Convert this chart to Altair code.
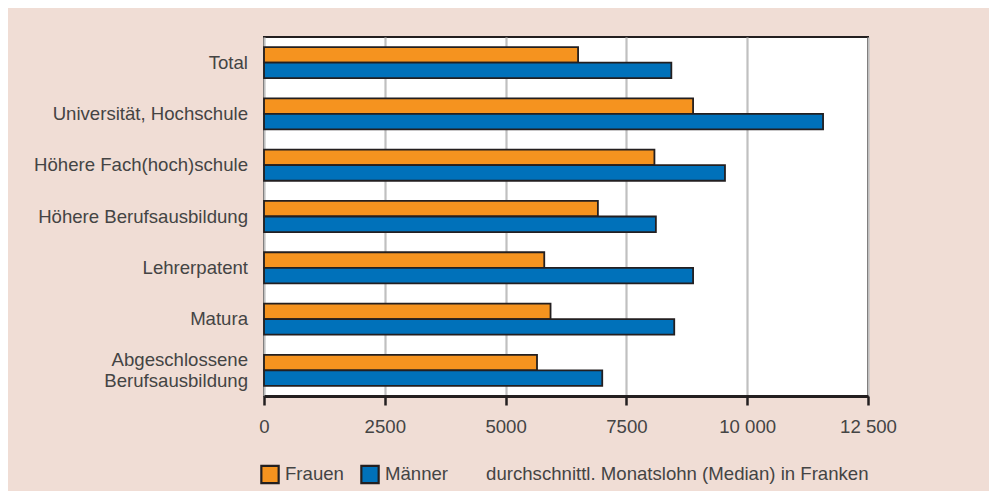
import altair as alt
import pandas as pd

categories = ["Total", "Universität, Hochschule", "Höhere Fach(hoch)schule",
              "Höhere Berufsausbildung", "Lehrerpatent", "Matura",
              "Abgeschlossene\nBerufsausbildung"]
frauen = [6500, 8880, 8080, 6910, 5800, 5930, 5650]
maenner = [8430, 11570, 9540, 8110, 8880, 8490, 7000]
series = ["Frauen", "Männer"]
colors = ["#F5931F", "#0071BA"]
x_ticks = [0, 2500, 5000, 7500, 10000, 12500]
x_title = "durchschnittl. Monatslohn (Median) in Franken"

rows = []
for c, f, m in zip(categories, frauen, maenner):
    rows.append({"Kategorie": c, "Geschlecht": series[0], "Lohn": f})
    rows.append({"Kategorie": c, "Geschlecht": series[1], "Lohn": m})
df = pd.DataFrame(rows)
labels_df = pd.DataFrame({"Kategorie": categories,
                          "multi": ["\n" in c for c in categories]})

FONT = "Liberation Sans"
FS = 18.6
TXT = "#444444"
DARK = "#231f20"

y_enc = alt.Y("Kategorie:N", sort=categories,
              scale=alt.Scale(paddingInner=0, paddingOuter=0),
              axis=alt.Axis(title=None, tickBand="extent", labels=False,
                            tickSize=6, tickWidth=2, tickColor=DARK,
                            domainColor=DARK, domainWidth=3, grid=False))

bars = alt.Chart(df).mark_bar(stroke=DARK, strokeWidth=1.8).encode(
    x=alt.X("Lohn:Q",
            scale=alt.Scale(domain=[0, 12500], nice=False),
            axis=alt.Axis(values=x_ticks,
                          labelExpr="datum.value >= 10000 ? replace(format(datum.value, ','), ',', ' ') : format(datum.value, 'd')",
                          title=x_title, titleX=604, titleY=83, titleAlign="right",
                          titleBaseline="alphabetic", titleFontWeight="normal",
                          titleFontSize=FS, titleColor=TXT, titleFont=FONT,
                          grid=True, gridColor="#c0c0c0", gridWidth=2.2,
                          tickSize=9, tickWidth=2.5, tickColor=DARK,
                          domainColor=DARK, domainWidth=3,
                          labelPadding=12, labelFlush=False)),
    y=y_enc,
    yOffset=alt.YOffset("Geschlecht:N", sort=series,
                        scale=alt.Scale(paddingOuter=0.65, paddingInner=0)),
    color=alt.Color("Geschlecht:N", sort=series,
                    scale=alt.Scale(domain=series, range=colors),
                    legend=alt.Legend(title=None, orient="none", direction="horizontal",
                                      legendX=-4, legendY=427,
                                      symbolType="square", symbolSize=300,
                                      symbolStrokeColor=DARK, symbolStrokeWidth=2.2,
                                      symbolOpacity=1,
                                      labelFontSize=FS, labelFont=FONT,
                                      labelColor=TXT, labelOffset=5, columnPadding=12)),
)

text_single = alt.Chart(labels_df).transform_filter("!datum.multi").mark_text(
    align="right", baseline="middle", dx=-16, font=FONT, fontSize=FS, color=TXT
).encode(
    x=alt.value(0),
    y=alt.Y("Kategorie:N", sort=categories, axis=None),
    text="Kategorie:N",
)

text_multi = alt.Chart(labels_df).transform_filter("datum.multi").mark_text(
    align="right", baseline="middle", dx=-16, dy=-10.5, font=FONT, fontSize=FS,
    color=TXT, lineBreak="\n", lineHeight=21
).encode(
    x=alt.value(0),
    y=alt.Y("Kategorie:N", sort=categories, axis=None),
    text="Kategorie:N",
)

chart = alt.layer(bars, text_single, text_multi).properties(
    width=604, height=359,
    autosize=alt.AutoSizeParams(type="none"),
    padding={"left": 256, "top": 29, "right": 121, "bottom": 95},
    background="#F0DDD5",
).configure_view(
    stroke=DARK, strokeWidth=2, fill="white"
).configure_axis(
    labelFont=FONT, labelFontSize=FS, labelColor=TXT,
)

chart.save("out.html", embed_options={"renderer": "svg", "actions": False})
